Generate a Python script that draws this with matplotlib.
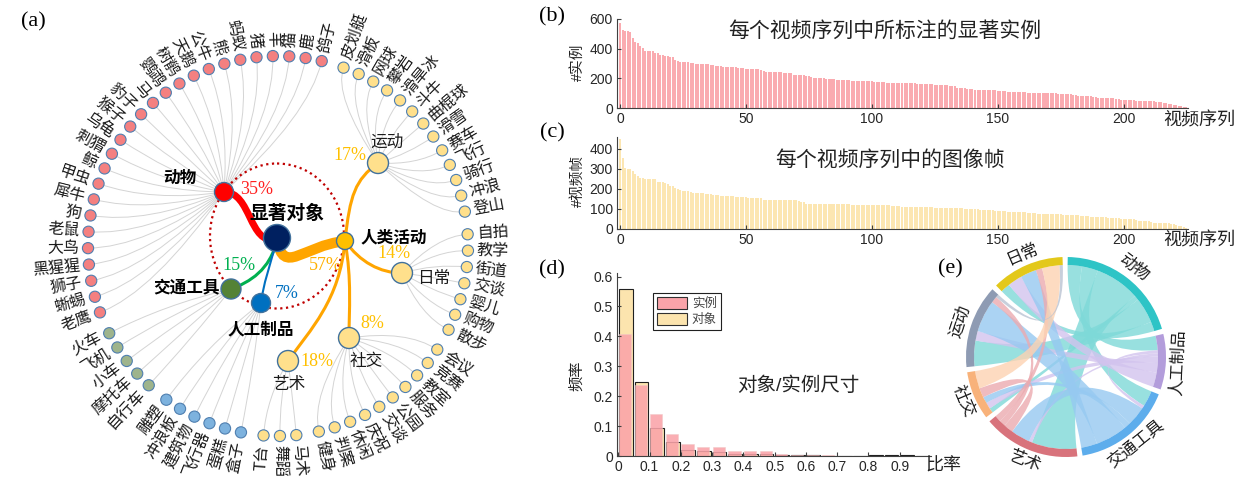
import numpy as np
import matplotlib
matplotlib.use("Agg")
import matplotlib.pyplot as plt
from matplotlib.patches import Circle, Ellipse, PathPatch, Wedge, Patch
from matplotlib.path import Path

plt.rcParams['font.family'] = ['Liberation Sans', 'Noto Sans CJK SC', 'DejaVu Sans']

W, H = 1246, 478

#### data ####
# (a) 树状图: 叶子按逆时针顺序
animals = ['鸽子', '鹿', '猫', '羊', '猪', '蚂蚁', '熊', '公牛', '天鹅', '树鹡', '鹦鹉', '马', '豹子',
           '猴子', '乌龟', '刺猬', '鲸', '甲虫', '犀牛', '狗', '老鼠', '大鸟', '黑猩猩', '狮子', '蜥蜴', '老鹰']
vehicles = ['火车', '飞机', '小车', '摩托车', '自行车']
artifacts = ['雕塑', '冲浪板', '建筑物', '飞行器', '蛋糕', '盒子']
art = ['T台', '舞蹈', '马术']
social = ['健身', '判案', '休闲', '庆祝', '交谈', '公园', '服务', '教室', '竞赛', '会议']
daily = ['散步', '购物', '婴儿', '交谈', '街道', '教学', '自拍']
sports = ['登山', '冲浪', '骑行', '飞行', '赛车', '滑雪', '曲棍球', '斗牛', '滑旱冰', '攀岩', '网球', '滑板', '皮划艇']

main_share = {'动物': '35%', '交通工具': '15%', '人工制品': '7%', '人类活动': '57%'}
human_share = {'运动': '17%', '日常': '14%', '社交': '8%', '艺术': '18%'}

# (b) 每个视频序列中的实例数
inst_counts = [
    575, 526, 522, 517, 513, 472, 445, 437, 419, 405,
    384, 383, 382, 381, 370, 368, 356, 355, 353, 352,
    343, 341, 321, 319, 312, 311, 310, 309, 305, 303,
    299, 298, 298, 297, 297, 296, 290, 288, 285, 284,
    283, 279, 278, 278, 277, 277, 276, 272, 271, 270,
    265, 264, 264, 263, 263, 262, 254, 252, 245, 245,
    244, 244, 243, 243, 242, 236, 235, 234, 233, 225,
    224, 224, 223, 222, 214, 213, 212, 205, 204, 204,
    203, 202, 198, 197, 196, 196, 191, 190, 190, 189,
    189, 188, 185, 184, 184, 183, 183, 180, 179, 179,
    179, 178, 178, 178, 177, 177, 171, 171, 170, 170,
    170, 170, 169, 169, 169, 168, 168, 168, 165, 164,
    164, 163, 163, 162, 162, 158, 157, 157, 156, 156,
    155, 149, 148, 147, 138, 137, 136, 136, 131, 130,
    129, 124, 123, 123, 123, 122, 122, 122, 121, 121,
    117, 116, 116, 115, 111, 110, 110, 110, 109, 109,
    109, 108, 104, 103, 103, 103, 103, 102, 102, 102,
    102, 101, 101, 100, 97, 96, 96, 95, 95, 94,
    90, 89, 84, 83, 83, 82, 82, 81, 77, 75,
    70, 69, 69, 68, 68, 67, 67, 61, 59, 56,
    56, 55, 55, 54, 54, 50, 49, 49, 48, 48,
    47, 47, 46, 43, 42, 41, 37, 35, 30, 28,
    23, 21, 16, 14, 9, 6]

# (c) 每个视频序列中的帧数
frame_counts = [
    450, 353, 303, 302, 298, 290, 273, 263, 257, 253,
    251, 250, 250, 249, 249, 236, 235, 234, 229, 227,
    216, 214, 203, 201, 194, 192, 189, 188, 187, 181,
    180, 180, 179, 179, 176, 175, 174, 171, 170, 169,
    166, 166, 165, 165, 164, 164, 161, 160, 160, 159,
    158, 157, 157, 157, 156, 156, 156, 146, 146, 145,
    145, 145, 145, 145, 145, 144, 144, 144, 144, 144,
    143, 138, 137, 136, 126, 126, 126, 125, 125, 125,
    125, 125, 125, 125, 125, 124, 124, 124, 124, 124,
    124, 123, 121, 121, 120, 120, 120, 120, 120, 120,
    120, 120, 119, 119, 119, 119, 119, 119, 113, 113,
    113, 113, 112, 112, 112, 112, 112, 112, 112, 112,
    111, 111, 111, 111, 111, 104, 104, 104, 104, 104,
    103, 103, 103, 103, 103, 103, 103, 102, 102, 102,
    102, 102, 101, 94, 94, 93, 93, 93, 93, 92,
    92, 92, 92, 91, 86, 86, 85, 85, 85, 84,
    84, 84, 79, 78, 78, 78, 77, 77, 76, 75,
    75, 75, 75, 74, 74, 74, 71, 70, 70, 70,
    69, 69, 69, 64, 63, 63, 63, 62, 62, 62,
    61, 58, 58, 58, 57, 57, 57, 57, 56, 51,
    50, 50, 50, 49, 49, 43, 42, 42, 42, 41,
    41, 33, 32, 32, 32, 31, 31, 28, 28, 27,
    23, 22, 15, 14, 9, 6]

# (d) 对象/实例尺寸直方图
bin_left = [0.0, 0.05, 0.1, 0.15, 0.2, 0.25, 0.3, 0.35, 0.4, 0.45,
            0.5, 0.55, 0.6, 0.65, 0.7, 0.75, 0.8, 0.85, 0.9, 0.95]
inst_freq = [0.407, 0.236, 0.140, 0.072, 0.039, 0.030, 0.030, 0.016, 0.016, 0.016,
             0.006, 0.002, 0.002, 0.002, 0.001, 0.001, 0.001, 0.001, 0.001, 0.0]
obj_freq = [0.558, 0.249, 0.093, 0.046, 0.021, 0.017, 0.012, 0.008, 0.006, 0.008,
            0.004, 0.002, 0.002, 0.001, 0.001, 0.001, 0.002, 0.003, 0.002, 0.0]

# (e) 弦图
chord_names = ['动物', '人工制品', '交通工具', '艺术', '社交', '运动', '日常']
chord_matrix = [
    [0, 9, 10, 28, 3, 16, 6],
    [9, 0, 2, 2, 4, 6, 9],
    [10, 2, 0, 12, 4, 20, 10],
    [28, 2, 12, 0, 6, 4, 4],
    [3, 4, 4, 6, 0, 0, 11],
    [16, 6, 20, 4, 0, 0, 2],
    [6, 9, 10, 4, 11, 2, 0]]
ring_colors = ['#2EC4C6', '#B39DDB', '#5DADEC', '#D8737C', '#F8B27A', '#8E9BB3', '#E3C81A']
ribbon_colors = ['#7ED9D8', '#D2C3EE', '#96C9F1', '#EBAAB0', '#FDD3B2', '#BAC3D3', '#F1E08C']

#### figure ####
fig = plt.figure(figsize=(W / 100, H / 100), dpi=100)


def frac(l, t, r, b):
    return [l / W, 1 - b / H, (r - l) / W, (b - t) / H]


def style_axes(ax):
    for s in ['top', 'right']:
        ax.spines[s].set_visible(False)
    for s in ['left', 'bottom']:
        ax.spines[s].set_color('#404040')
        ax.spines[s].set_linewidth(0.8)
    ax.tick_params(direction='in', length=3, width=0.8, labelsize=10,
                   labelcolor='#262626', color='#404040', pad=3)
    ax.set_facecolor('none')


## (b)
ax_b = fig.add_axes(frac(617, 19, 1188, 108))
ax_b.bar(np.arange(len(inst_counts)), inst_counts, width=0.8, color='#FAABB0', linewidth=0)
ax_b.set_xlim(-1.2, 225.6)
ax_b.set_ylim(0, 600)
ax_b.set_yticks([0, 200, 400, 600])
ax_b.set_xticks([0, 50, 100, 150, 200])
style_axes(ax_b)

## (c)
ax_c = fig.add_axes(frac(617, 137, 1188, 229))
ax_c.bar(np.arange(len(frame_counts)), frame_counts, width=0.8, color='#FCE6B2', linewidth=0)
ax_c.set_xlim(-1.2, 225.6)
ax_c.set_ylim(0, 460)
ax_c.set_yticks([0, 100, 200, 300, 400])
ax_c.set_xticks([0, 50, 100, 150, 200])
style_axes(ax_c)

## (d)
ax_d = fig.add_axes(frac(617, 273, 931, 456))
bl = np.array(bin_left)
ax_d.bar(bl + 0.002, obj_freq, width=0.044, align='edge', color='#FCE4AE',
         edgecolor='#202020', linewidth=0.8)
ax_d.bar(bl + 0.002, inst_freq, width=0.039, align='edge', color='#FAA3A9',
         alpha=0.88, edgecolor='#F0C8C8', linewidth=0.4)
ax_d.set_xlim(-0.004, 1.0)
ax_d.set_ylim(0, 0.612)
ax_d.set_xticks([0, 0.1, 0.2, 0.3, 0.4, 0.5, 0.6, 0.7, 0.8, 0.9])
ax_d.set_xticklabels(['0', '0.1', '0.2', '0.3', '0.4', '0.5', '0.6', '0.7', '0.8', '0.9'])
ax_d.set_yticks([0, 0.1, 0.2, 0.3, 0.4, 0.5, 0.6])
ax_d.set_yticklabels(['0', '0.1', '0.2', '0.3', '0.4', '0.5', '0.6'])
style_axes(ax_d)
leg = ax_d.legend(handles=[Patch(facecolor='#FAA3A9', edgecolor='#303030', lw=0.8, label='实例'),
                           Patch(facecolor='#FCE4AE', edgecolor='#303030', lw=0.8, label='对象')],
                  loc='upper left', bbox_to_anchor=(0.095, 0.925), fancybox=False,
                  framealpha=1, edgecolor='#202020', fontsize=9, handlelength=2.4,
                  handleheight=1.1, borderpad=0.3, labelspacing=0.25, handletextpad=0.4)
leg.get_frame().set_linewidth(0.8)
for t in leg.get_texts():
    t.set_color('#444444')

#### pixel overlay for (a), (e) and free text ####
ax = fig.add_axes([0, 0, 1, 1])
ax.set_xlim(0, W)
ax.set_ylim(H, 0)
ax.axis('off')
ax.patch.set_alpha(0)

# texts for b, c, d
ax.text(885, 31, '每个视频序列中所标注的显著实例', fontsize=15, ha='center', va='center', color='#222222')
ax.text(578, 62, '#实例', fontsize=10.5, rotation=90, ha='center', va='center', color='#222222')
ax.text(1199, 121, '视频序列', fontsize=13, ha='center', va='center', color='#222222')
ax.text(890, 160, '每个视频序列中的图像帧', fontsize=15, ha='center', va='center', color='#222222')
ax.text(578, 181, '#视频帧', fontsize=10.5, rotation=90, ha='center', va='center', color='#222222')
ax.text(1199, 241, '视频序列', fontsize=13, ha='center', va='center', color='#222222')
ax.text(798, 386, '对象/实例尺寸', fontsize=14, ha='center', va='center', color='#222222')
ax.text(943, 466, '比率', fontsize=13, ha='center', va='center', color='#222222')
ax.text(577, 376, '频率', fontsize=11, rotation=90, ha='center', va='center', color='#222222')

serif = ['Liberation Serif', 'DejaVu Serif']
for lab, (x, y) in {'(a)': (33, 22), '(b)': (552, 17), '(c)': (552, 133),
                    '(d)': (552, 270), '(e)': (950, 269)}.items():
    ax.text(x, y, lab, fontsize=16, family=serif, ha='center', va='center')

## (a) tree
C = (278, 246)
R = 190


def pol(a, r, c=C):
    t = np.radians(a)
    return (c[0] + r * np.cos(t), c[1] - r * np.sin(t))


node_pos = {'显著对象': (277, 238), '动物': (224, 192), '交通工具': (231, 289), '人工制品': (261, 303),
            '人类活动': (345, 241), '运动': (378, 163), '日常': (402, 273), '社交': (349, 338),
            '艺术': (288, 361)}

groups = [(animals, '动物', '#F48080'), (vehicles, '交通工具', '#9EB48C'),
          (artifacts, '人工制品', '#7DB2DE'), (art, '艺术', '#FFE08C'),
          (social, '社交', '#FFE08C'), (daily, '日常', '#FFE08C'), (sports, '运动', '#FFE08C')]

step = 4.95
gap = (360 - 63 * step) / 7
ang = 76.7
for names, parent, col in groups:
    px, py = node_pos[parent]
    r0 = np.hypot(px - C[0], py - C[1])
    rc = (r0 + R) / 2
    for nm in names:
        lx, ly = pol(ang, R)
        cx_, cy_ = pol(ang, rc)
        p = Path([(px, py), (cx_, cy_), (lx, ly)], [Path.MOVETO, Path.CURVE3, Path.CURVE3])
        ax.add_patch(PathPatch(p, fill=False, edgecolor='#D4D4D4', lw=0.7, zorder=1))
        ax.add_patch(Circle((lx, ly), 5.6, facecolor=col, edgecolor='#4F7FB0', lw=0.8, zorder=4))
        a_n = (ang + 180) % 360 - 180
        if -90 <= a_n <= 90:
            rot, ha = a_n, 'left'
        else:
            rot, ha = (a_n - 180 if a_n > 0 else a_n + 180), 'right'
        tx, ty = pol(ang, R + 9)
        ax.text(tx, ty, nm, fontsize=11.5, rotation=rot, ha=ha, va='center',
                rotation_mode='anchor', color='#1A1A1A', zorder=5)
        ang += step
    ang += gap - step

ax.add_patch(Ellipse((277, 236), 134, 145, fill=False, edgecolor='#C00000', lw=1.6,
                     linestyle=(0, (1, 1.6)), zorder=2))


def link(pts, color, lw):
    p = Path(pts, [Path.MOVETO, Path.CURVE4, Path.CURVE4, Path.CURVE4])
    ax.add_patch(PathPatch(p, fill=False, edgecolor=color, lw=lw, capstyle='round', zorder=3))


link([(224, 192), (252, 192), (248, 245), (277, 240)], '#FF0000', 5)
link([(277, 240), (284, 276), (302, 246), (345, 241)], '#FFA500', 7.5)
link([(277, 240), (270, 270), (250, 282), (231, 289)], '#00B050', 2.2)
link([(277, 240), (270, 265), (263, 285), (261, 303)], '#0070C0', 1.5)
link([(345, 241), (350, 195), (355, 180), (378, 163)], '#FFA500', 2.2)
link([(345, 241), (360, 262), (380, 273), (402, 273)], '#FFA500', 2.2)
link([(345, 241), (352, 280), (349, 310), (349, 338)], '#FFA500', 2.2)
link([(345, 241), (340, 300), (310, 330), (288, 361)], '#FFA500', 2.2)

node_style = {'显著对象': (13.5, '#002060'), '动物': (9.5, '#FF0000'), '交通工具': (10, '#548235'),
              '人工制品': (9.5, '#0070C0'), '人类活动': (8.5, '#FFC000'), '运动': (10.5, '#FFE08C'),
              '日常': (10.5, '#FFE08C'), '社交': (10.5, '#FFE08C'), '艺术': (10.5, '#FFE08C')}
for k, (r, col) in node_style.items():
    ax.add_patch(Circle(node_pos[k], r, facecolor=col, edgecolor='#41719C', lw=1.0, zorder=4))

bold_labels = {'显著对象': (287, 213, 13.5), '动物': (180, 178, 12), '交通工具': (186, 287, 12),
               '人工制品': (261, 329, 12), '人类活动': (394, 237, 12)}
for k, (x, y, fs) in bold_labels.items():
    ax.text(x, y, k, fontsize=fs, fontweight='bold', ha='center', va='center', zorder=5,
            family=['Noto Sans CJK SC'])
sub_labels = {'运动': (387, 142), '日常': (434, 278), '社交': (366, 361), '艺术': (289, 385)}
for k, (x, y) in sub_labels.items():
    ax.text(x, y, k, fontsize=12, ha='center', va='center', zorder=5, color='#1A1A1A')

pct_pos = {'动物': (240, 189, '#FF2020'), '交通工具': (222, 266, '#00B050'),
           '人工制品': (275, 293, '#0070C0'), '人类活动': (309, 266, '#FFB000'),
           '运动': (333, 156, '#FFC000'), '日常': (377, 254, '#FFC000'),
           '社交': (360, 323, '#FFC000'), '艺术': (300, 361, '#FFC000')}
shares = dict(main_share, **human_share)
for k, (x, y, col) in pct_pos.items():
    ax.text(x, y, shares[k], fontsize=13, family=serif, color=col, ha='left', va='center', zorder=5)

## (e) chord diagram
ccx, ccy, cr, ring_w = 1066, 357, 100, 8
rin = cr - ring_w
tot = [sum(row) for row in chord_matrix]
cgap = 3.0
unit = (360 - cgap * len(tot)) / sum(tot)
a = 89.0
spans, sub = [], {}
for i in range(len(tot)):
    s0 = a
    for j in range(len(tot)):
        v = chord_matrix[i][j]
        if v:
            sub[(i, j)] = (a, a - v * unit)
            a -= v * unit
    spans.append((s0, a))
    a -= cgap


def arcpts(a0, a1, r, n=40):
    t = np.radians(np.linspace(a0, a1, n))
    return np.column_stack([ccx + r * np.cos(t), ccy - r * np.sin(t)])


for i in range(len(tot)):
    for j in range(i + 1, len(tot)):
        if (i, j) not in sub:
            continue
        A = arcpts(*sub[(i, j)], rin)
        B = arcpts(*sub[(j, i)], rin)
        verts = list(A) + [(ccx, ccy), B[0]] + list(B[1:]) + [(ccx, ccy), A[0]]
        codes = ([Path.MOVETO] + [Path.LINETO] * (len(A) - 1) + [Path.CURVE3] * 2 +
                 [Path.LINETO] * (len(B) - 1) + [Path.CURVE3] * 2)
        ax.add_patch(PathPatch(Path(verts, codes), facecolor=ribbon_colors[i], edgecolor='none',
                               alpha=0.8, zorder=2))

for i, (s0, s1) in enumerate(spans):
    ax.add_patch(Wedge((ccx, ccy), cr, -s0, -s1, width=ring_w, facecolor=ring_colors[i],
                       edgecolor='none', zorder=3))
    mid = (s0 + s1) / 2
    m = (mid + 180) % 360 - 180
    rot = m - 90 if np.sin(np.radians(m)) >= 0 else m + 90
    tx, ty = arcpts(mid, mid, cr + 12, 1)[0]
    ax.text(tx, ty, chord_names[i], fontsize=12, rotation=rot, ha='center', va='center',
            rotation_mode='anchor', color='#1A1A1A', zorder=5)

fig.savefig('out.png', dpi=100)
